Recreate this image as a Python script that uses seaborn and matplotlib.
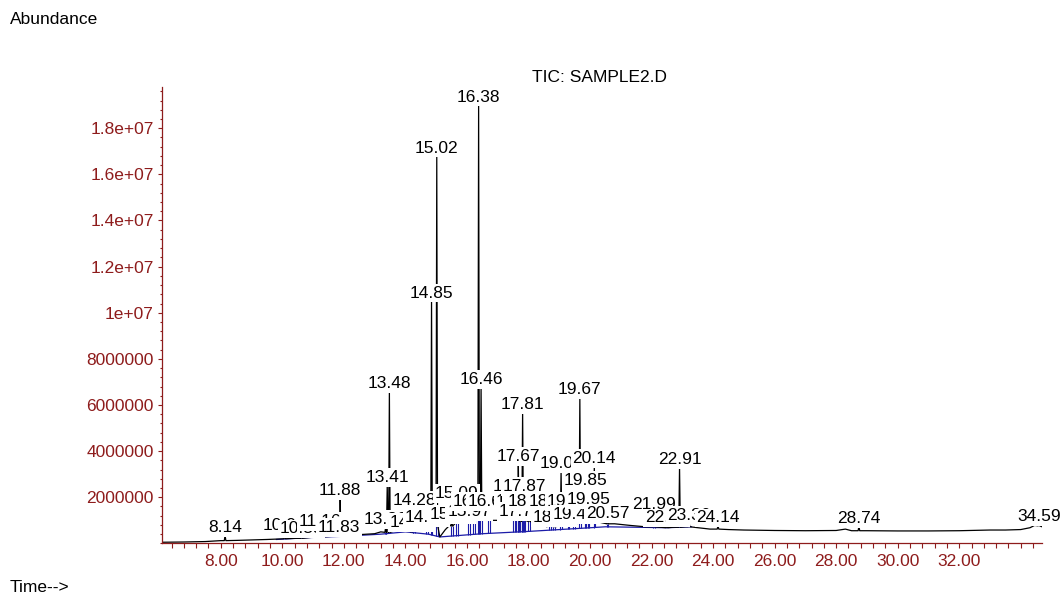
import numpy as np
import pandas as pd
import seaborn as sns
import matplotlib.pyplot as plt
from matplotlib.ticker import MultipleLocator, FixedLocator

# TIC trace between the peaks (minutes, abundance in millions)
base_time = [6.09, 6.8, 7.5, 8.0, 8.5, 9.0, 9.5, 10.0, 10.4, 11.0, 11.5, 12.0, 12.5,
             13.0, 13.2, 13.6, 14.0, 14.5, 14.75, 15.12, 15.3, 15.45, 15.8, 16.9,
             17.3, 18.3, 18.6, 19.0, 20.3, 20.8, 21.3, 21.8, 22.3, 22.7, 23.1, 23.5,
             23.9, 24.5, 25.0, 26.0, 27.0, 28.0, 28.3, 28.5, 29.0, 30.0, 31.0, 32.0,
             33.0, 33.5, 34.0, 34.3, 34.45, 34.69]
base_abund = [0.05, 0.06, 0.08, 0.12, 0.13, 0.15, 0.17, 0.2, 0.22, 0.27, 0.3, 0.33, 0.38,
              0.42, 0.5, 0.52, 0.6, 0.68, 0.78, 0.28, 0.6, 0.8, 1.0, 1.0,
              1.0, 0.9, 0.72, 0.75, 0.92, 0.85, 0.78, 0.72, 0.7, 0.7, 0.72, 0.68,
              0.62, 0.6, 0.58, 0.56, 0.55, 0.56, 0.62, 0.55, 0.55, 0.54, 0.54, 0.55,
              0.58, 0.58, 0.6, 0.68, 0.78, 0.72]

# labelled peaks: retention time, apex, level at the foot (millions), printed label
peak_time = [8.14, 10.08, 10.63, 11.22, 11.84, 11.88, 13.36, 13.41, 13.48, 14.21, 14.28,
             14.70, 14.85, 15.02, 15.51, 15.67, 16.07, 16.23, 16.38, 16.46, 16.72,
             17.53, 17.63, 17.67, 17.75, 17.81, 17.87, 18.02, 18.70, 18.83, 19.06,
             19.30, 19.48, 19.67, 19.85, 19.95, 20.14, 20.57, 22.08, 22.50, 22.91,
             23.22, 24.16, 28.74, 34.59]
peak_apex = [0.36, 0.45, 0.30, 0.62, 0.36, 1.97, 0.71, 2.53, 6.61, 0.58, 1.54,
             0.80, 10.52, 16.81, 0.93, 1.84, 1.05, 1.49, 19.02, 6.79, 1.49,
             2.14, 1.49, 3.44, 1.05, 5.70, 2.14, 1.49, 1.49, 0.80, 3.14,
             1.49, 0.92, 6.35, 2.41, 1.58, 3.36, 0.95, 1.36, 0.78, 3.31,
             0.90, 0.78, 0.76, 0.84]
peak_foot = [0.12, 0.20, 0.22, 0.28, 0.32, 0.32, 0.48, 0.48, 0.48, 0.50, 0.55,
             0.70, 0.80, 0.80, 0.75, 0.90, 0.90, 1.00, 1.00, 1.00, 1.00,
             1.00, 1.00, 1.00, 0.95, 1.00, 1.00, 0.95, 0.80, 0.72, 0.80,
             0.85, 0.82, 0.90, 0.90, 0.90, 0.92, 0.85, 0.72, 0.68, 0.70,
             0.72, 0.62, 0.55, 0.76]
peak_label = ["8.14", "10.01", "10.55", "11.16", "11.83", "11.88", "13.36", "13.41", "13.48",
              "14.07", "14.28", "14.14", "14.85", "15.02", "15.51", "15.09", "15.97", "16.03",
              "16.38", "16.46", "16.65", "17.54", "17.61", "17.67", "17.75", "17.81", "17.87",
              "18.02", "18.70", "18.83", "19.05", "19.30", "19.45", "19.67", "19.85", "19.95",
              "20.14", "20.57", "21.99", "22.45", "22.91", "23.36", "24.14", "28.74", "34.59"]

# blue integration baseline
blue_time = [9.8, 11.0, 12.0, 13.2, 13.6, 14.0, 14.75, 15.12, 16.5, 18.0, 19.9, 20.5,
             21.5, 22.5, 23.3]
blue_abund = [0.17, 0.26, 0.31, 0.40, 0.45, 0.50, 0.40, 0.28, 0.42, 0.52, 0.67, 0.72,
              0.70, 0.68, 0.72]

x_ticks = [8, 10, 12, 14, 16, 18, 20, 22, 24, 26, 28, 30, 32]
y_ticks = [2e6, 4e6, 6e6, 8e6, 1e7, 1.2e7, 1.4e7, 1.6e7, 1.8e7]
y_tick_labels = ["2000000", "4000000", "6000000", "8000000", "1e+07",
                 "1.2e+07", "1.4e+07", "1.6e+07", "1.8e+07"]

RED = "#8e1c1c"
BLUE = "#1c1ca8"
FS = 12.5
w = 0.025

sns.set_style("ticks")
plt.rcParams["font.family"] = ["Liberation Sans", "DejaVu Sans"]
plt.rcParams["text.color"] = "black"

# trace: baseline points plus a narrow spike per peak
rows = []
for t, a in zip(base_time, base_abund):
    if min(abs(t - p) for p in peak_time) > w:
        rows.append((t, a))
for t, top, foot in zip(peak_time, peak_apex, peak_foot):
    rows += [(t - w, foot), (t, top), (t + w, foot)]
trace = pd.DataFrame(rows, columns=["time", "abund"]).sort_values("time", kind="stable")
trace["abund"] *= 1e6

fig = plt.figure(figsize=(10.64, 5.97), dpi=100)
ax = fig.add_axes([162 / 1064, 1 - 543.4 / 597, 880 / 1064, (543.4 - 86.7) / 597])

# integration marks
blue = pd.DataFrame({"time": blue_time, "abund": np.array(blue_abund) * 1e6})
sns.lineplot(data=blue, x="time", y="abund", ax=ax, color=BLUE, lw=0.9, zorder=1)
for t, foot in zip(peak_time, peak_foot):
    for x in (t - w, t + w):
        if blue_time[0] <= x <= blue_time[-1]:
            lo = np.interp(x, blue_time, blue_abund)
            if foot > lo:
                ax.vlines(x, lo * 1e6, foot * 1e6, color=BLUE, lw=0.8, zorder=1)

sns.lineplot(data=trace, x="time", y="abund", ax=ax, color="black", lw=0.9,
             estimator=None, sort=False, zorder=2)

for t, top, lab in sorted(zip(peak_time, peak_apex, peak_label)):
    ax.text(t, top * 1e6, lab, ha="center", va="bottom", fontsize=FS, color="black",
            bbox=dict(boxstyle="square,pad=0.1", fc="white", ec="none"), zorder=5)

ax.set_xlim(6.09, 34.69)
ax.set_ylim(0, 1.98e7)
ax.xaxis.set_major_locator(FixedLocator(x_ticks))
ax.set_xticklabels([f"{v:.2f}" for v in x_ticks])
ax.xaxis.set_minor_locator(MultipleLocator(0.4))
ax.yaxis.set_major_locator(FixedLocator(y_ticks))
ax.set_yticklabels(y_tick_labels)
ax.yaxis.set_minor_locator(MultipleLocator(4e5))
ax.set_xlabel("")
ax.set_ylabel("")

for side in ("top", "right"):
    ax.spines[side].set_visible(False)
for side in ("left", "bottom"):
    ax.spines[side].set_color(RED)
    ax.spines[side].set_linewidth(0.9)

ax.tick_params(axis="x", which="both", direction="out", length=3.6, width=0.8,
               colors=RED, labelsize=FS, pad=4)
ax.tick_params(axis="y", which="major", direction="out", length=3, width=0.8,
               colors=RED, labelsize=FS, pad=3)
ax.tick_params(axis="y", which="minor", direction="out", length=1.8, width=0.8, colors=RED)

fig.text(10 / 1064, 1 - 20 / 597, "Abundance", ha="left", va="center", fontsize=FS)
fig.text(10 / 1064, 1 - 588 / 597, "Time-->", ha="left", va="center", fontsize=FS)
fig.text(600 / 1064, 1 - 77 / 597, "TIC: SAMPLE2.D", ha="center", va="center", fontsize=FS)

fig.savefig("out.png", dpi=100)
